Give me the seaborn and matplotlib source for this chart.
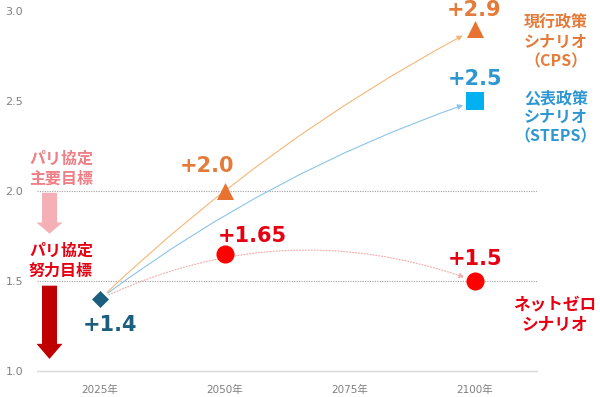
import numpy as np
import pandas as pd
import matplotlib
matplotlib.use("Agg")
import matplotlib.pyplot as plt
import seaborn as sns

# データ
years = [2025, 2050, 2100, 2100, 2050, 2100]
values = [1.4, 2.0, 2.9, 2.5, 1.65, 1.5]
scenario = ["現状", "CPS", "CPS", "STEPS", "NZ", "NZ"]
point_labels = ["+1.4", "+2.0", "+2.9", "+2.5", "+1.65", "+1.5"]
label_offsets = [(7, -19), (-13, 18), (-1, 14), (0, 16), (20, 13), (0, 16)]

x_ticks = [2025, 2050, 2075, 2100]
x_ticklabels = ["2025年", "2050年", "2075年", "2100年"]
y_ticks = [1.0, 1.5, 2.0, 2.5, 3.0]
target_lines = [2.0, 1.5]

df = pd.DataFrame({"year": years, "value": values, "scenario": scenario, "label": point_labels})

# 色とマーカー
marker_style = {
    "現状": dict(marker="D", s=75, color="#1C5E7E"),
    "CPS": dict(marker="^", s=150, color="#E8722F"),
    "STEPS": dict(marker="s", s=170, color="#00B0F0"),
    "NZ": dict(marker="o", s=170, color="#FF0000"),
}
label_color = {"現状": "#1C5E7E", "CPS": "#E47B3A", "STEPS": "#2E97D2", "NZ": "#E60012"}

sns.set_theme(style="white")
plt.rcParams["font.family"] = ["DejaVu Sans", "Noto Sans CJK JP"]

fig = plt.figure(figsize=(6, 3.97), dpi=100, facecolor="white")
ax = fig.add_axes([37 / 600, 26 / 397, 500 / 600, 360 / 397])

# 目標ライン（点線）
for yv in target_lines:
    ax.axhline(yv, color="#A0A0A0", lw=0.8, ls=(0, (1, 1.2)), zorder=1)

# シナリオの曲線（矢印）
start = (years[0], values[0])
curves = [
    ((2100, 2.9), "#F6B677", "-", -0.07, 10),
    ((2100, 2.5), "#8CC4EA", "-", -0.08, 9),
    ((2100, 1.5), "#F2A9A9", ":", -0.21, 8),
]
for end, col, ls, rad, shrink_b in curves:
    ax.annotate("", xy=end, xytext=start,
                arrowprops=dict(arrowstyle="-|>", color=col, lw=0.8, ls=ls,
                                connectionstyle=f"arc3,rad={rad}",
                                shrinkA=7, shrinkB=shrink_b, mutation_scale=8),
                zorder=2)

# マーカー
for name, sub in df.groupby("scenario", sort=False):
    st = marker_style[name]
    sns.scatterplot(data=sub, x="year", y="value", marker=st["marker"], s=st["s"],
                    color=st["color"], linewidth=0, ax=ax, zorder=4, legend=False)

# 数値ラベル
for (_, row), off in zip(df.iterrows(), label_offsets):
    ax.annotate(row["label"], (row["year"], row["value"]), xytext=off,
                textcoords="offset points", ha="center", va="center",
                fontsize=15, fontweight="bold", color=label_color[row["scenario"]],
                family="DejaVu Sans", zorder=5, annotation_clip=False)

# シナリオ名
cjk = ["Noto Sans CJK JP", "DejaVu Sans"]
ax.text(2116.2, 2.827, "現行政策\nシナリオ\n（CPS）", ha="center", va="center",
        fontsize=11.5, fontweight="bold", color="#E47B3A", family=cjk, linespacing=1.25)
ax.text(2116.2, 2.41, "公表政策\nシナリオ\n（STEPS）", ha="center", va="center",
        fontsize=11.5, fontweight="bold", color="#2E97D2", family=cjk, linespacing=1.25)
ax.text(2116.0, 1.312, "ネットゼロ\nシナリオ", ha="center", va="center",
        fontsize=12, fontweight="bold", color="#E60012", family=cjk, linespacing=1.2)

# パリ協定の目標
ax.text(2017.2, 2.125, "パリ協定\n主要目標", ha="center", va="center",
        fontsize=11.5, fontweight="bold", color="#EF7F86", family=cjk, linespacing=1.25)
ax.text(2017.2, 1.613, "パリ協定\n努力目標", ha="center", va="center",
        fontsize=11.5, fontweight="bold", color="#E60012", family=cjk, linespacing=1.25)
ax.arrow(2014.9, 1.99, 0, -0.227, width=3.0, head_width=5.2, head_length=0.062,
         length_includes_head=True, color="#F4B0B4", lw=0, zorder=3)
ax.arrow(2014.9, 1.474, 0, -0.407, width=3.0, head_width=5.2, head_length=0.084,
         length_includes_head=True, color="#C00000", lw=0, zorder=3)

# 軸
ax.set_xlim(2012.4, 2112.4)
ax.set_ylim(1.0, 3.0)
ax.set_xticks(x_ticks)
ax.set_xticklabels(x_ticklabels, fontsize=7.5, color="#808080")
ax.set_yticks(y_ticks)
ax.set_yticklabels([f"{v:.1f}" for v in y_ticks], fontsize=8, color="#808080")
ax.tick_params(axis="both", length=0)
ax.tick_params(axis="y", pad=10)
ax.tick_params(axis="x", pad=10)
ax.set_xlabel("")
ax.set_ylabel("")
for side in ["top", "right", "left"]:
    ax.spines[side].set_visible(False)
ax.spines["bottom"].set_color("#D9D9D9")
ax.spines["bottom"].set_linewidth(1)
ax.grid(False)

plt.savefig("out.png", dpi=100, facecolor="white")
